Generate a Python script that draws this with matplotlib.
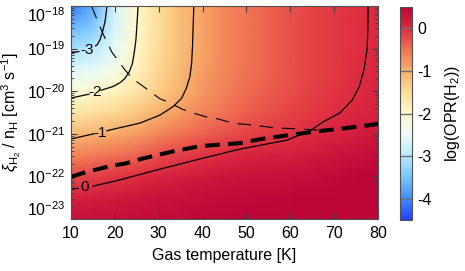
import numpy as np
import matplotlib
matplotlib.use('Agg')
import matplotlib.pyplot as plt
from matplotlib.colors import LinearSegmentedColormap, Normalize
from matplotlib.ticker import LogLocator, NullFormatter

plt.rcParams['font.family'] = ['Liberation Sans', 'DejaVu Sans']
plt.rcParams['mathtext.fontset'] = 'custom'
plt.rcParams['mathtext.rm'] = 'Liberation Sans'
plt.rcParams['mathtext.it'] = 'Liberation Sans:italic'
plt.rcParams['axes.unicode_minus'] = False

nan = np.nan

# log(OPR): rows = log10(zeta/nH), columns = gas temperature
temps = [10, 15, 20, 25, 30, 35, 40, 45, 50, 55, 60, 65, 70, 75, 80]
log_rate = [-23, -22.5, -22, -21.5, -21, -20.5, -20, -19.5, -19, -18.5, -18]
log_opr = [
    [0.33, 0.35, 0.38, 0.40, 0.42, 0.44, 0.46, 0.48, 0.49, 0.51, 0.52, 0.54, 0.56, 0.58, 0.60],
    [0.13, 0.17, 0.22, 0.26, 0.32, 0.35, 0.39, 0.42, 0.44, 0.46, 0.47, 0.50, 0.53, 0.55, 0.58],
    [-0.22, -0.16, -0.08, -0.01, 0.09, 0.16, 0.22, 0.27, 0.31, 0.34, 0.36, 0.40, 0.44, 0.48, 0.52],
    [-0.65, -0.58, -0.49, -0.40, -0.26, -0.16, -0.06, 0.03, 0.09, 0.13, 0.16, 0.22, 0.28, 0.34, 0.39],
    [-1.13, -1.05, -0.95, -0.84, -0.66, -0.52, -0.38, -0.27, -0.17, -0.11, -0.05, 0.03, 0.10, 0.18, 0.24],
    [-1.63, -1.54, -1.42, -1.27, -1.03, -0.84, -0.65, -0.50, -0.37, -0.27, -0.18, -0.10, -0.02, 0.06, 0.12],
    [-2.12, -2.04, -1.88, -1.62, -1.30, -1.03, -0.80, -0.62, -0.47, -0.35, -0.25, -0.16, -0.07, 0.00, 0.06],
    [-2.62, -2.53, -2.27, -1.85, -1.43, -1.11, -0.86, -0.67, -0.51, -0.38, -0.27, -0.18, -0.09, -0.02, 0.04],
    [-3.12, -2.99, -2.53, -1.95, -1.49, -1.15, -0.89, -0.68, -0.52, -0.39, -0.28, -0.18, -0.10, -0.03, 0.03],
    [-3.62, -3.41, -2.67, -1.99, -1.51, -1.16, -0.89, -0.69, -0.52, -0.39, -0.28, -0.18, -0.10, -0.03, 0.03],
    [-4.12, -3.71, -2.72, -2.00, -1.51, -1.16, -0.90, -0.69, -0.53, -0.39, -0.28, -0.19, -0.10, -0.03, 0.03],
]

# contour lines (T, log10 rate), nan = gap for the label
c_m3_T = [10, 11.8, nan, 15.6, 15.9, 16.6, 17.2, 17.75, 18.1, 18.2]
c_m3_z = [-19.10, -19.07, nan, -18.93, -18.92, -18.80, -18.60, -18.37, -18.09, -18.0]
c_m2_T = [10, 14.1, nan, 16.8, 17.4, 19.6, 21.2, 22.3, 23.3, 24.0, 24.4, 24.8, 25.0, 25.3]
c_m2_z = [-20.16, -20.07, nan, -19.98, -19.96, -19.89, -19.80, -19.70, -19.54, -19.35, -19.11, -18.80,
          -18.49, -18.0]
c_m1_T = [10, 15.2, nan, 18.2, 18.9, 25.7, 30.3, 33.3, 35.2, 36.3, 37.1, 37.5, 37.7, 37.9, 38.0]
c_m1_z = [-21.12, -21.00, nan, -20.93, -20.91, -20.75, -20.56, -20.36, -20.17, -19.93, -19.66, -19.35,
          -18.96, -18.33, -18.0]
c_0_T = [10, 11.6, nan, 15.0, 21.2, 30.3, 39.4, 48.5, 59.2, 64.5, 67.5, 71.3, 74.1, 75.7, 76.8, 77.5,
         77.7, 77.75]
c_0_z = [-22.30, -22.28, nan, -22.23, -22.08, -21.83, -21.59, -21.36, -21.15, -20.93, -20.72, -20.51,
         -20.21, -19.90, -19.50, -19.03, -18.49, -18.0]
contour_levels = [-3, -2, -1, 0]
label_T = [13.6, 15.5, 16.6, 13.2]
label_z = [-19.03, -20.03, -20.97, -22.26]

# thin dashed curve
thin_T = [14.7, 15.5, 17.5, 19.3, 22.3, 24.1, 27.3, 30.3, 32.1, 35.3, 37.8, 41.0, 43.5, 46.9,
          50.9, 56.5, 62.7, 67.5]
thin_z = [-18.0, -18.21, -18.70, -19.08, -19.50, -19.71, -19.95, -20.18, -20.25, -20.42, -20.51,
          -20.61, -20.65, -20.75, -20.79, -20.86, -20.89, -20.92]

# thick dashed curve
thick_T = [10, 13.4, 18.9, 22.3, 26.4, 33.0, 39.4, 48.5, 53.5, 59.7, 66.3, 72.5, 80]
thick_z = [-22.01, -21.90, -21.76, -21.70, -21.58, -21.42, -21.29, -21.22, -21.12, -21.03, -20.94,
           -20.87, -20.77]

cmap = LinearSegmentedColormap.from_list('opr', [
    (0.00, (0.13, 0.25, 1.00)),
    (0.10, (0.25, 0.55, 1.00)),
    (0.20, (0.47, 0.77, 1.00)),
    (0.30, (0.72, 0.91, 1.00)),
    (0.40, (0.92, 0.99, 0.97)),
    (0.50, (1.00, 0.98, 0.80)),
    (0.60, (0.99, 0.87, 0.60)),
    (0.70, (0.97, 0.69, 0.42)),
    (0.80, (0.94, 0.45, 0.33)),
    (0.90, (0.87, 0.17, 0.25)),
    (1.00, (0.74, 0.02, 0.22)),
])
norm = Normalize(vmin=-4.5, vmax=0.5)

fig = plt.figure(figsize=(4.65, 2.71), dpi=100)
ax = fig.add_axes([0.1527, 0.1919, 0.6602, 0.786])
cax = fig.add_axes([0.8602, 0.188, 0.0258, 0.786])

ax.set_yscale('log')
rate = 10.0 ** np.array(log_rate)
mesh = ax.pcolormesh(temps, rate, np.array(log_opr), shading='gouraud', cmap=cmap, norm=norm)

for T, z in [(c_m3_T, c_m3_z), (c_m2_T, c_m2_z), (c_m1_T, c_m1_z), (c_0_T, c_0_z)]:
    ax.plot(T, 10.0 ** np.array(z), color='black', lw=0.9)

for lev, T, z in zip(contour_levels, label_T, label_z):
    ax.text(T, 10.0 ** z, str(lev), ha='center', va='center', fontsize=11)

ax.plot(thin_T, 10.0 ** np.array(thin_z), color='black', lw=0.8, dashes=(12, 8))
ax.plot(thick_T, 10.0 ** np.array(thick_z), color='black', lw=2.9, dashes=(3.7, 2.0))

ax.set_xlim(10, 80)
ax.set_ylim(1e-23, 1e-18)
ax.set_xticks([10, 20, 30, 40, 50, 60, 70, 80])
ax.yaxis.set_major_locator(LogLocator(base=10, numticks=10))
ax.yaxis.set_minor_locator(LogLocator(base=10, subs=np.arange(2, 10), numticks=20))
ax.yaxis.set_minor_formatter(NullFormatter())
ax.tick_params(which='both', direction='in', top=True, right=True, color='#404040', labelsize=11.5)
ax.tick_params(which='major', length=4, width=0.8)
ax.tick_params(which='minor', length=2.5, width=0.6)
ax.tick_params(axis='x', pad=5)
ax.tick_params(axis='y', pad=4)
for s in ax.spines.values():
    s.set_color('#505050')
    s.set_linewidth(0.8)

ax.set_xlabel('Gas temperature [K]', fontsize=11.5, labelpad=5)
ax.set_ylabel(r'$\xi_{\mathrm{H_2}}$ / n$_\mathrm{H}$ [cm$^3$ s$^{-1}$]', fontsize=11.5, labelpad=3)

cb = fig.colorbar(mesh, cax=cax)
cb.set_ticks([0, -1, -2, -3, -4])
cb.ax.tick_params(length=0, labelsize=11.5, pad=4)
for t in [0, -1, -2, -3, -4]:
    cax.axhline(t, color='#707070', lw=1.0)
cb.outline.set_edgecolor('#505050')
cb.outline.set_linewidth(0.8)
cb.set_label(r'log(OPR(H$_2$))', fontsize=11.5, labelpad=8)

# keep the end labels of the y axis inside the frame
fig.canvas.draw()
for lab in ax.get_yticklabels():
    if '-18' in lab.get_text():
        lab.set_verticalalignment('top')
    elif '-23' in lab.get_text():
        lab.set_verticalalignment('bottom')

fig.savefig('out.png', dpi=100)
